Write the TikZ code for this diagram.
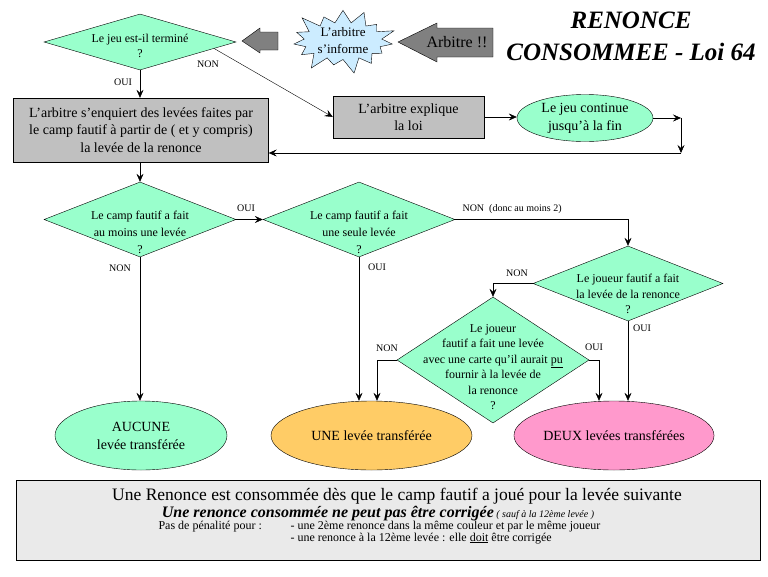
\documentclass[tikz,border=0pt]{standalone}
\usepackage{fontspec}
\setmainfont{Liberation Serif}
\usetikzlibrary{shapes.geometric,shapes.symbols,arrows.meta}

\definecolor{menthe}{RGB}{153,255,204}
\definecolor{ciel}{RGB}{204,236,255}
\definecolor{orangeclair}{RGB}{255,204,102}
\definecolor{rose}{RGB}{255,153,204}
\definecolor{grisboite}{RGB}{192,192,192}
\definecolor{grisfleche}{RGB}{128,128,128}
\definecolor{grisfond}{RGB}{234,234,234}

\tikzset{
  question/.style={diamond, draw, fill=menthe, inner sep=0pt, minimum width=192pt},
  qtexte/.style={align=center, font=\fontsize{12}{15.5}\selectfont},
  boite/.style={rectangle, draw, fill=grisboite, inner sep=2pt, align=center, font=\fontsize{14}{17.5}\selectfont},
  issue/.style={ellipse, draw, inner sep=0pt, align=center, font=\fontsize{14}{18}\selectfont},
  fleche/.style={-{Stealth[length=8pt,width=7pt,inset=3pt]}},
  rep/.style={font=\fontsize{10}{12}\selectfont},
}

\begin{document}
\begin{tikzpicture}[x=1pt,y=-1pt]
\useasboundingbox (0,0) rectangle (768,576);

\node[align=center, font=\fontsize{25}{32}\selectfont\bfseries\itshape] (titre) at (631,36) {RENONCE\\CONSOMMEE - Loi 64};

\coordinate (petite) at (242,41);
\coordinate (grande) at (398,42);
\draw[fill=grisfleche] (petite) -- ++(18,-13) -- ++(0,4) -- ++(18,0) -- ++(0,18) -- ++(-18,0) -- ++(0,3) -- cycle;
\draw[fill=grisfleche] (grande) -- ++(39,-19) -- ++(0,5) -- ++(56,0) -- ++(0,29) -- ++(-56,0) -- ++(0,5) -- cycle;
\node[font=\fontsize{16}{18}\selectfont] (arbitre) at (457,42) {Arbitre !!};
\node[starburst, draw, fill=ciel, starburst points=15, starburst point height=17pt, minimum width=112pt, minimum height=66pt, inner sep=0pt, align=center, font=\fontsize{13}{17}\selectfont] (informe) at (343,41) {L’arbitre\\s’informe};

\node[question, minimum height=56pt] (termine) at (140,42) {};
\node[qtexte] (termineT) at (140,46) {Le jeu est-il terminé\\?};

\node[boite, minimum width=255pt, minimum height=64pt] (enquete) at (141,130) {L’arbitre s’enquiert des levées faites par\\le camp fautif à partir de ( et y compris)\\la levée de la renonce};
\node[boite, minimum width=151pt, minimum height=42pt] (explique) at (408.5,117) {L’arbitre explique\\la loi};
\node[issue, fill=menthe, minimum width=136pt, minimum height=47pt] (continue) at (585,118) {Le jeu continue\\jusqu’à la fin};
\coordinate (retour) at (681,153);

\node[question, minimum height=75pt] (auMoins) at (140,219.5) {};
\node[qtexte, font=\fontsize{12}{17}\selectfont] (auMoinsT) at (140,232) {Le camp fautif a fait\\au moins une levée\\?};
\node[question, minimum height=75pt] (seule) at (359,219.5) {};
\node[qtexte, font=\fontsize{12}{17}\selectfont] (seuleT) at (359,232) {Le camp fautif a fait\\une seule levée\\?};
\node[question, minimum width=190pt, minimum height=75pt] (joueur) at (628,283.5) {};
\node[qtexte] (joueurT) at (628,294) {Le joueur fautif a fait\\la levée de la renonce\\?};
\node[question, minimum height=126pt] (carte) at (493,360) {};
\node[qtexte] (carteT) at (493,367) {Le joueur\\fautif a fait une levée\\avec une carte qu’il aurait \underline{pu}\\fournir à la levée de\\la renonce\\?};

\node[issue, fill=menthe, minimum width=172pt, minimum height=69pt] (aucune) at (141,435.5) {AUCUNE\\levée transférée};
\node[issue, fill=orangeclair, minimum width=201pt, minimum height=69pt] (une) at (371.5,435.5) {UNE levée transférée};
\node[issue, fill=rose, minimum width=200pt, minimum height=69pt] (deux) at (614,435.5) {DEUX levées transférées};

\draw[fleche] (termine.south) -- (termine.south |- enquete.north);
\draw[fleche] (termine.-5) -- (explique.west);
\draw[fleche] (explique.east) -- (explique.east -| continue.west);
\draw[fleche] (continue.east) -- (continue.east -| retour);
\draw[fleche] (continue.east -| retour) -- (retour);
\draw[fleche] (retour) -- (retour -| enquete.east);
\draw[fleche] (auMoins.north |- enquete.south) -- (auMoins.north);
\draw[fleche] (auMoins.east) -- (seule.west);
\draw[fleche] (auMoins.south) -- (auMoins.south |- aucune.north);
\draw[fleche] (seule.south) -- (seule.south |- une.north);
\draw[fleche] (seule.east) -- (joueur.north |- seule.east) -- (joueur.north);
\draw[fleche] (joueur.west) -- (carte.north |- joueur.west) -- (carte.north);
\draw[fleche] (joueur.south) -- (joueur.south |- deux.north);
\draw[fleche] (carte.west) -| ([xshift=5.5pt]une.north);
\draw[fleche] (carte.east) -| ([xshift=-15pt]deux.north);

\node[rep] (oui0) at (123,82) {OUI};
\node[rep] (non0) at (208,64) {NON};
\node[rep] (oui1) at (246,208) {OUI};
\node[rep] (non1) at (120,268) {NON};
\node[rep] (oui2) at (377,267) {OUI};
\node[rep, anchor=west] (non2) at (459,209) {NON\ \ (donc au moins 2)};
\node[rep] (non3) at (517,273) {NON};
\node[rep] (oui3) at (642,328) {OUI};
\node[rep] (non4) at (387,348) {NON};
\node[rep] (oui4) at (594,347) {OUI};

\node[draw, fill=grisfond, minimum width=744pt, minimum height=80pt] (cadre) at (388,520) {};
\node[anchor=base, font=\fontsize{17.5}{19}\selectfont] (regle) at (397,500) {Une Renonce est consommée dès que le camp fautif a joué pour la levée suivante};
\node[anchor=base] (corrige) at (378,517) {{\fontsize{16}{18}\selectfont\bfseries\itshape Une renonce consommée ne peut pas être corrigée} {\fontsize{10}{12}\selectfont\itshape ( sauf à la 12ème levée )}};
\node[anchor=base west, font=\fontsize{12}{13}\selectfont] (penalite) at (155,529) {Pas de pénalité pour :};
\node[anchor=base west, font=\fontsize{12}{13}\selectfont] (cas1) at (287,529) {- une 2ème renonce dans la même couleur et par le même joueur};
\node[anchor=base west, font=\fontsize{12}{13}\selectfont] (cas2) at (287,541) {- une renonce à la 12ème levée : elle \underline{doit} être corrigée};
\end{tikzpicture}
\end{document}
